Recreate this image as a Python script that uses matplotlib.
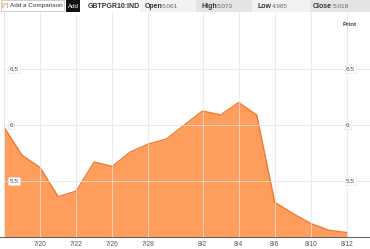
import numpy as np
import matplotlib.pyplot as plt

plt.rcParams['font.family'] = ['Liberation Sans', 'DejaVu Sans']

# trading days, 2010-07-16 .. 2010-08-12
dates = ['7/16', '7/19', '7/20', '7/21', '7/22', '7/23', '7/26', '7/27', '7/28', '7/29',
         '7/30', '8/2', '8/3', '8/4', '8/5', '8/6', '8/9', '8/10', '8/11', '8/12']
values = [5.98, 5.73, 5.62, 5.36, 5.41, 5.67, 5.63, 5.76, 5.83, 5.875,
          6.00, 6.125, 6.09, 6.20, 6.09, 5.31, 5.21, 5.12, 5.06, 5.04]
tick_dates = ['7/20', '7/22', '7/26', '7/28', '8/2', '8/4', '8/6', '8/10', '8/12']
y_ticks = [5.5, 6, 6.5]
y_labels = ['5.5', '6', '6.5']

header = [('Open', '5.061'), ('High', '5.073'), ('Low', '4.985'), ('Close', '5.018')]

fig = plt.figure(figsize=(3.7, 2.49), dpi=100)
ax = fig.add_axes([4 / 370, 12 / 249, 366 / 370, 224 / 249])

x = np.arange(len(values))
ax.fill_between(x, values, 5.0, color='#ff9d5c', lw=0, zorder=1)
ax.plot(x, values, color='#f07a2e', lw=1.0, zorder=2)

ax.set_xlim(0, 20.28)
ax.set_ylim(5.0, 7.0)

tick_pos = [dates.index(d) for d in tick_dates]
for p in tick_pos:
    ax.axvline(p, color='#e4e4e4', lw=0.7, alpha=0.75, zorder=3)
for v in y_ticks:
    ax.axhline(v, color='#e4e4e4', lw=0.7, alpha=0.75, zorder=3)

ax.set_xticks(tick_pos)
ax.set_xticklabels(tick_dates, fontsize=4.8, color='#555555')
ax.tick_params(axis='x', length=0, pad=3)
ax.set_yticks([])

for v, lab in zip(y_ticks, y_labels):
    for xp in (0.3, 18.95):
        ax.text(xp, v, lab, fontsize=4.6, color='#444444', va='center', ha='left', zorder=5,
                bbox=dict(boxstyle='square,pad=0.2', fc='white', ec='#e0e0e0', lw=0.4))

for side in ('top', 'right'):
    ax.spines[side].set_visible(False)
ax.spines['left'].set_color('#e6e6e6')
ax.spines['left'].set_linewidth(0.6)
ax.spines['bottom'].set_color('#666666')
ax.spines['bottom'].set_linewidth(0.8)
ax.spines['bottom'].set_bounds(-1, 21)
ax.spines['bottom'].set_clip_on(False)

# header bar
hy = 1 - 6 / 249
fig.patches.append(plt.Rectangle((140 / 370, 1 - 12 / 249), 230 / 370, 12 / 249,
                                 transform=fig.transFigure, fc='#f2f2f2', ec='none'))
for x0, w in ((196 / 370, 56 / 370), (310 / 370, 60 / 370)):
    fig.patches.append(plt.Rectangle((x0, 1 - 12 / 249), w, 12 / 249,
                                     transform=fig.transFigure, fc='#e4e4e4', ec='none'))
fig.text(2 / 370, hy, '[?]', fontsize=4.6, color='#d08a00', va='center')
fig.text(9.5 / 370, hy, 'Add a Comparison', fontsize=4.6, color='#333333', va='center')
fig.patches.append(plt.Rectangle((0.5 / 370, 1 - 11.5 / 249), 63 / 370, 11 / 249,
                                 transform=fig.transFigure, fc='none', ec='#bbbbbb', lw=0.5))
fig.patches.append(plt.Rectangle((66 / 370, 1 - 12 / 249), 14 / 370, 12 / 249,
                                 transform=fig.transFigure, fc='#111111', ec='none'))
fig.text(73 / 370, hy, 'Add', fontsize=4.4, color='white', va='center', ha='center')
fig.text(88 / 370, hy, 'GBTPGR10:IND', fontsize=5, color='#333333', va='center', weight='bold')
for (name, val), x0, w in zip(header, (145, 201, 258, 313), (15, 14, 12, 18)):
    fig.text(x0 / 370, hy, name, fontsize=5, color='#333333', va='center', weight='bold')
    fig.text((x0 + w + 2) / 370, hy, val, fontsize=4.6, color='#666666', va='center')
fig.text(350 / 370, 1 - 24 / 249, 'Print', fontsize=4.5, color='#444444', va='center',
         ha='center', weight='bold')

fig.savefig('out.png', dpi=100)
